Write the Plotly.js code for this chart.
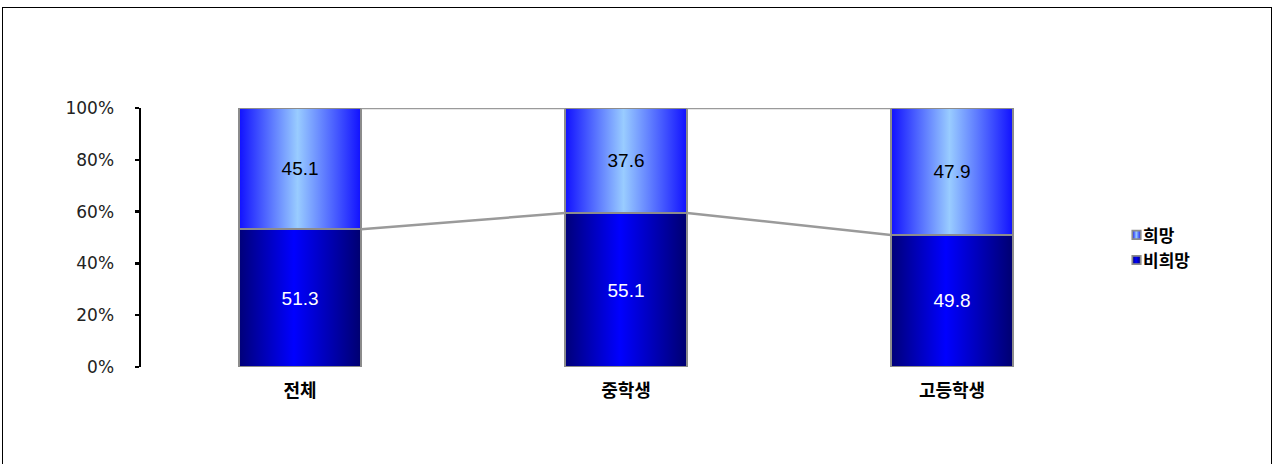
<!DOCTYPE html>
<html>
<head>
<meta charset="utf-8">
<script src="https://cdn.plot.ly/plotly-3.0.1.min.js"></script>
<style>
  html, body { margin: 0; padding: 0; background: #fff; }
  #wrap { position: relative; width: 1275px; height: 464px; overflow: hidden; }
  #chart { width: 1275px; height: 464px; }
  #frame { position: absolute; left: 2px; top: 7px; width: 1268px; height: 470px;
           border: 1px solid #000; pointer-events: none; }
</style>
</head>
<body>
<div id="wrap">
  <div id="chart"></div>
  <div id="frame"></div>
</div>
<script>
// ---- data ----
const categories = ['전체', '중학생', '고등학생'];
const hopeValues = [45.1, 37.6, 47.9];      // 희망
const nonHopeValues = [51.3, 55.1, 49.8];   // 비희망
const seriesNames = ['희망', '비희망'];
const yTickVals = [0, 20, 40, 60, 80, 100];
const yTickText = ['0%', '20%', '40%', '60%', '80%', '100%'];

// ---- layout helpers ----
const barWidth = 0.375;
const xPos = categories.map((c, i) => i);
const borderGray = '#8c8c8c';

// bar traces (stacked, normalised to 100%)
const traceNonHope = {
  type: 'bar', name: seriesNames[1], x: xPos, y: nonHopeValues,
  width: barWidth,
  text: nonHopeValues.map(v => v.toFixed(1)),
  textposition: 'inside', insidetextanchor: 'middle', textangle: 0,
  insidetextfont: { family: 'Liberation Sans, Arial, sans-serif', size: 19, color: '#ffffff' },
  marker: { color: '#0000d0', line: { color: borderGray, width: 2.5 } },
  hoverinfo: 'skip'
};
const traceHope = {
  type: 'bar', name: seriesNames[0], x: xPos, y: hopeValues,
  width: barWidth,
  text: hopeValues.map(v => v.toFixed(1)),
  textposition: 'inside', insidetextanchor: 'middle', textangle: 0,
  insidetextfont: { family: 'Liberation Sans, Arial, sans-serif', size: 19, color: '#000000' },
  marker: { color: '#6699ff', line: { color: borderGray, width: 2.5 } },
  hoverinfo: 'skip'
};

// series lines (Excel-style) joining the stack boundaries between bars
const boundary = nonHopeValues.map((v, i) => v / (v + hopeValues[i]) * 100);
const topLevel = nonHopeValues.map(() => 100);
function seriesLine(levels) {
  const xs = [], ys = [];
  for (let i = 0; i < levels.length - 1; i++) {
    xs.push(xPos[i] + barWidth / 2, xPos[i + 1] - barWidth / 2, null);
    ys.push(levels[i], levels[i + 1], null);
  }
  return { type: 'scatter', mode: 'lines', x: xs, y: ys, showlegend: false,
           hoverinfo: 'skip', line: { color: '#9a9a9a', width: 2.5 } };
}

const data = [traceNonHope, traceHope, seriesLine(boundary), seriesLine(topLevel)];

const layout = {
  width: 1275, height: 464,
  margin: { l: 141, r: 160, t: 108, b: 97 },
  paper_bgcolor: '#ffffff', plot_bgcolor: '#ffffff',
  barmode: 'stack', barnorm: 'percent',
  showlegend: true,
  legend: {
    x: 0.9877, xanchor: 'left', y: 0.46, yanchor: 'middle',
    traceorder: 'reversed',
    font: { family: 'Noto Sans CJK KR, sans-serif', size: 17, color: '#000', weight: 'bold' },
    itemwidth: 30, tracegroupgap: 0, bgcolor: 'rgba(0,0,0,0)'
  },
  xaxis: {
    range: [-0.488, 2.5], tickvals: xPos, ticktext: categories,
    showline: false, showgrid: false, zeroline: false, ticks: '',
    ticklabelstandoff: 11,
    tickfont: { family: 'Noto Sans CJK KR, sans-serif', size: 18, color: '#000', weight: 'bold' }
  },
  yaxis: {
    range: [0, 100], tickvals: yTickVals, ticktext: yTickText,
    showline: true, linecolor: '#000', linewidth: 2.5,
    ticks: 'outside', ticklen: 4, tickwidth: 2.5, tickcolor: '#000',
    showgrid: false, zeroline: false, ticklabelstandoff: 17,
    tickfont: { family: 'DejaVu Sans, sans-serif', size: 17, color: '#222' }
  }
};

Plotly.newPlot('chart', data, layout, { staticPlot: true, displayModeBar: false }).then(gd => {
  // horizontal cylinder-like gradients, as in the reference
  const svg = gd.querySelector('svg.main-svg');
  const NS = 'http://www.w3.org/2000/svg';
  let defs = svg.querySelector('defs');
  if (!defs) { defs = document.createElementNS(NS, 'defs'); svg.insertBefore(defs, svg.firstChild); }
  function grad(id, stops) {
    const g = document.createElementNS(NS, 'linearGradient');
    g.setAttribute('id', id);
    g.setAttribute('x1', '0'); g.setAttribute('y1', '0');
    g.setAttribute('x2', '1'); g.setAttribute('y2', '0');
    stops.forEach(([o, c]) => {
      const s = document.createElementNS(NS, 'stop');
      s.setAttribute('offset', o); s.setAttribute('stop-color', c);
      g.appendChild(s);
    });
    defs.appendChild(g);
  }
  grad('gNonHope', [['0', '#000078'], ['0.45', '#0000ff'], ['1', '#000070']]);
  grad('gHope', [['0', '#1010ff'], ['0.48', '#99ccff'], ['1', '#1010ff']]);
  const fills = { 0: 'url(#gNonHope)', 1: 'url(#gHope)' };

  gd.querySelectorAll('.barlayer .trace').forEach(t => {
    const d = t.__data__; const idx = d && d[0] && d[0].trace ? d[0].trace.index : null;
    if (fills[idx]) t.querySelectorAll('path').forEach(p => { p.style.fill = fills[idx]; });
  });
  gd.querySelectorAll('.legend .traces').forEach(t => {
    const d = t.__data__; const idx = d && d[0] && d[0].trace ? d[0].trace.index : null;
    if (!fills[idx]) return;
    const txt = t.querySelector('.legendtext');
    const textLeft = txt ? txt.getBoundingClientRect().left : null;
    t.querySelectorAll('.legendpoints path').forEach(p => {
      p.style.fill = fills[idx];
      // smaller swatch sitting close to the label, as in the reference
      const r = p.getBoundingClientRect();
      const curCenter = r.left + r.width / 2;
      const dx = textLeft != null ? (textLeft - 6.5) - curCenter : 0;
      const existing = p.getAttribute('transform') || '';
      p.setAttribute('transform', existing + ' translate(' + dx + ',0) scale(0.7)');
    });
  });
});
</script>
</body>
</html>
